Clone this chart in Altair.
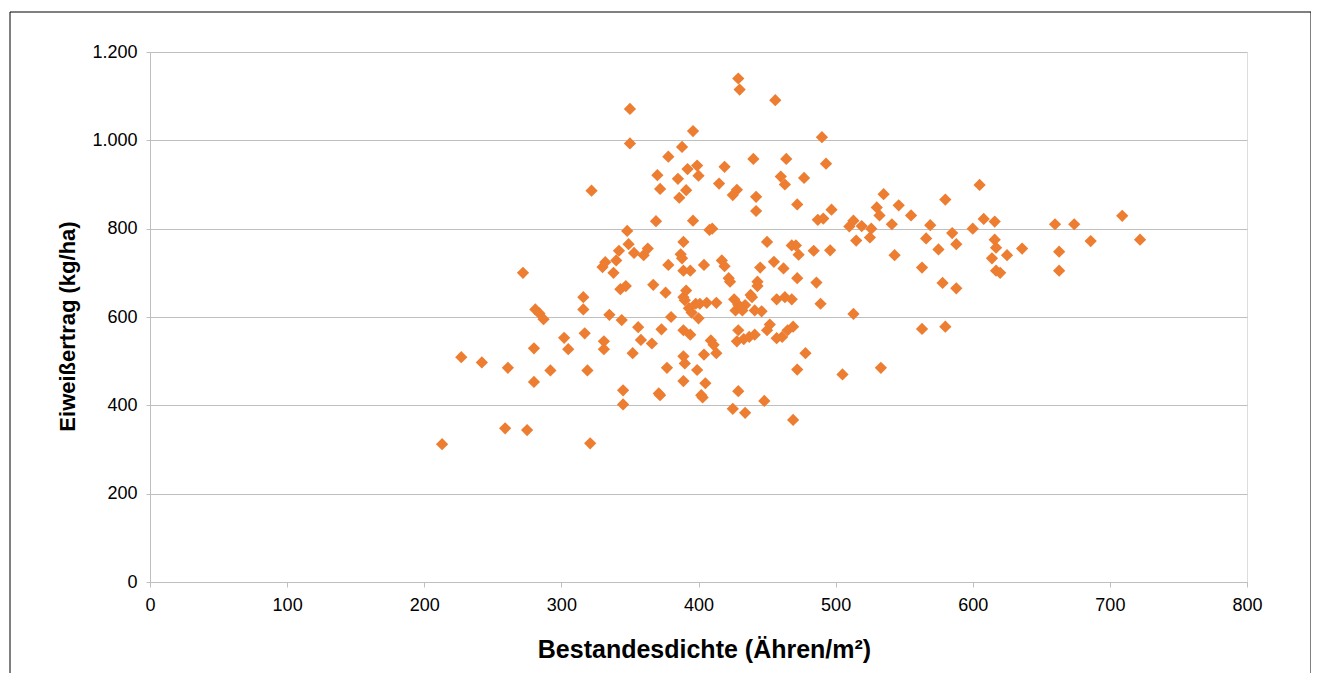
import altair as alt
import pandas as pd

dichte = [213, 227, 242, 259, 261, 272, 275, 280, 280, 281, 284, 287, 292, 302, 305, 316, 316, 317, 319, 321,
          322, 330, 331, 331, 332, 335, 338, 340, 342, 343, 344, 345, 345, 347, 348, 349, 350, 350, 352, 353,
          356, 358, 360, 363, 366, 367, 369, 370, 371, 372, 372, 373, 376, 377, 378, 378, 380, 385, 386, 387,
          388, 388, 389, 389, 389, 389, 389, 390, 389, 390, 391, 391, 392, 393, 394, 394, 395, 396, 396, 398,
          399, 399, 400, 400, 401, 402, 403, 404, 404, 405, 406, 408, 409, 410, 411, 413, 413, 415, 417, 419,
          419, 422, 423, 425, 425, 426, 427, 428, 428, 429, 429, 430, 429, 429, 432, 433, 434, 434, 437, 438,
          439, 440, 441, 441, 442, 442, 443, 443, 445, 446, 448, 450, 450, 452, 455, 456, 457, 457, 460, 461,
          462, 463, 463, 464, 465, 468, 468, 469, 469, 471, 472, 472, 472, 473, 477, 478, 484, 486, 487, 489,
          490, 491, 493, 496, 497, 505, 510, 513, 513, 515, 519, 525, 526, 530, 532, 533, 535, 541, 543, 546,
          555, 563, 563, 566, 569, 575, 578, 580, 580, 585, 588, 588, 600, 605, 608, 614, 616, 616, 617, 617,
          620, 625, 636, 660, 663, 663, 674, 686, 709, 722]
ertrag = [312, 509, 497, 348, 485, 700, 344, 453, 529, 617, 608, 595, 479, 553, 527, 645, 617, 563, 479, 314,
          886, 713, 545, 527, 724, 605, 700, 728, 750, 663, 593, 434, 402, 670, 795, 765, 1071, 993, 518, 745,
          577, 548, 740, 755, 540, 673, 817, 921, 427, 423, 890, 572, 655, 485, 963, 718, 600, 913, 870, 742,
          985, 733, 705, 770, 645, 570, 511, 495, 455, 638, 887, 660, 935, 620, 705, 560, 610, 1021, 818, 630,
          943, 480, 920, 597, 630, 423, 418, 718, 515, 450, 632, 797, 547, 800, 537, 518, 632, 902, 728, 940,
          715, 688, 680, 392, 876, 640, 615, 888, 545, 628, 1140, 1115, 432, 570, 615, 550, 383, 627, 555, 650,
          645, 958, 615, 560, 872, 840, 680, 670, 712, 613, 410, 770, 570, 583, 725, 1091, 640, 552, 918, 555,
          710, 900, 645, 958, 570, 762, 640, 578, 367, 762, 481, 855, 688, 741, 915, 518, 750, 678, 820, 630,
          1007, 823, 947, 751, 843, 470, 805, 818, 607, 773, 806, 780, 800, 848, 830, 485, 878, 810, 740, 853,
          830, 712, 573, 778, 808, 753, 677, 866, 578, 790, 765, 665, 800, 899, 822, 733, 816, 775, 757, 705,
          700, 740, 755, 810, 748, 705, 810, 772, 829, 775]

df = pd.DataFrame({"dichte": dichte, "ertrag": ertrag})

W, H = 1097, 530
FONT = "Liberation Sans"
GRAY = "#BFBFBF"

points = alt.Chart(df).mark_point(
    shape="diamond", filled=True, size=150, color="#ED7D31", opacity=1
).encode(
    x=alt.X("dichte:Q",
            scale=alt.Scale(domain=[0, 800], nice=False, zero=False),
            axis=alt.Axis(values=list(range(0, 801, 100)), grid=False,
                          domainColor=GRAY, tickColor=GRAY, tickSize=5,
                          labelFont=FONT, labelFontSize=18, labelColor="#000000",
                          labelPadding=9, labelFlush=False, labelOverlap=False,
                          title="Bestandesdichte (Ähren/m²)",
                          titleFont=FONT, titleFontSize=25, titleFontWeight="bold",
                          titleColor="#000000", titleX=554, titleY=75,
                          titleBaseline="alphabetic", titleAlign="center")),
    y=alt.Y("ertrag:Q",
            scale=alt.Scale(domain=[0, 1200], nice=False),
            axis=alt.Axis(values=list(range(0, 1201, 200)), grid=True, gridColor=GRAY,
                          domainColor=GRAY, tickColor=GRAY, tickSize=4,
                          labelFont=FONT, labelFontSize=18, labelColor="#000000",
                          labelPadding=9, labelFlush=False, labelOverlap=False,
                          labelExpr="replace(format(datum.value, ','), ',', '.')",
                          title="Eiweißertrag (kg/ha)",
                          titleFont=FONT, titleFontSize=22, titleFontWeight="bold",
                          titleColor="#000000", titleX=-76, titleY=274,
                          titleBaseline="alphabetic", titleAlign="center", titleAngle=270)),
)

frame = alt.Chart(pd.DataFrame({"a": [0]})).mark_rect(
    filled=False, stroke="#000000", strokeWidth=1
).encode(
    x=alt.value(-140), x2=alt.value(1161), y=alt.value(-40), y2=alt.value(720)
)

chart = alt.layer(frame, points).properties(
    width=W, height=H,
    padding={"left": 142, "top": 44, "right": 64, "bottom": 91},
    autosize=alt.AutoSizeParams(type="none"),
).configure_view(stroke=None).configure(background="white")

chart.save("out.html", embed_options={"renderer": "svg", "actions": False})
